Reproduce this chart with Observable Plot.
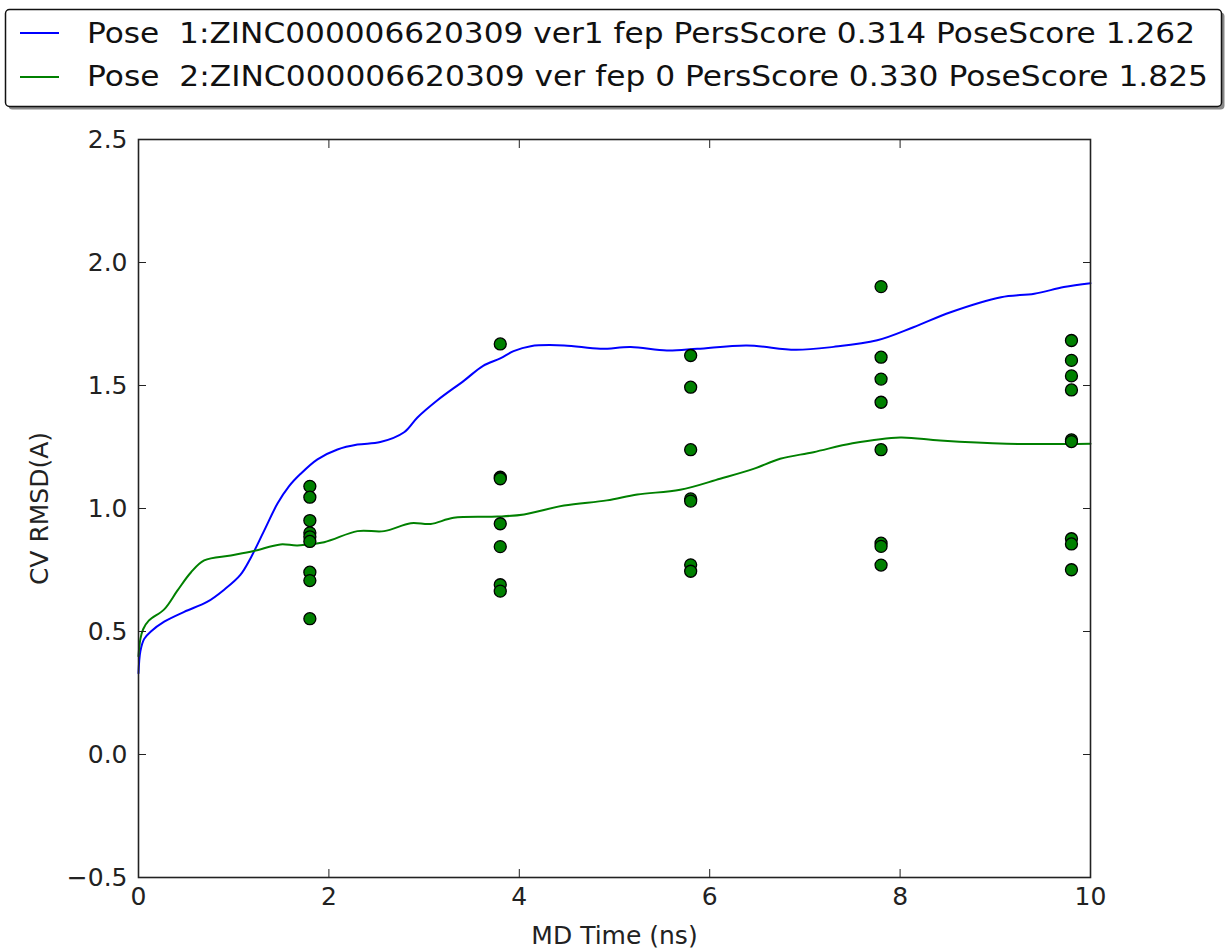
<!DOCTYPE html>
<html><head><meta charset="utf-8">
<script src="https://cdn.jsdelivr.net/npm/d3@7"></script>
<script src="https://cdn.jsdelivr.net/npm/@observablehq/plot@0.6"></script>
<style>
body{margin:0;background:#fff;}
#wrap{position:relative;width:1225px;height:952px;font-family:"DejaVu Sans";}
#legend{position:absolute;left:0;top:0;}
</style></head><body><div id="wrap"><div id="chart"></div><svg id="legend" width="1225" height="118"></svg></div>
<script>
// ---- data ----
const pose1Time = [0,0.02,0.06,0.13,0.27,0.48,0.72,0.90,1.07,1.18,1.32,1.46,1.58,1.70,1.88,2.09,2.30,2.54,2.79,2.93,3.14,3.42,3.62,3.80,3.94,4.12,4.47,4.85,5.17,5.55,5.87,6.39,6.90,7.30,7.76,8.14,8.53,9.06,9.41,9.72,10.0];
const pose1Rmsd = [0.33,0.42,0.47,0.50,0.54,0.58,0.62,0.67,0.73,0.80,0.91,1.02,1.09,1.14,1.20,1.24,1.26,1.27,1.31,1.37,1.44,1.52,1.58,1.61,1.64,1.66,1.663,1.649,1.656,1.642,1.649,1.663,1.645,1.657,1.684,1.737,1.798,1.859,1.873,1.90,1.916];
const pose2Time = [0,0.02,0.05,0.11,0.27,0.41,0.55,0.69,0.97,1.21,1.49,1.67,1.95,2.30,2.58,2.86,3.07,3.31,3.77,4.05,4.47,4.92,5.24,5.69,6.11,6.46,6.74,7.09,7.50,8.00,8.42,9.12,10.0];
const pose2Rmsd = [0.40,0.47,0.51,0.545,0.59,0.667,0.74,0.789,0.809,0.827,0.854,0.850,0.863,0.908,0.908,0.940,0.937,0.962,0.967,0.976,1.012,1.033,1.057,1.076,1.121,1.161,1.202,1.229,1.265,1.289,1.276,1.263,1.263];
const sampleTimes = [1.8, 3.8, 5.8, 7.8, 9.8];
const samplesAt1_8 = [1.09,1.046,0.951,0.901,0.885,0.866,0.741,0.707,0.552];
const samplesAt3_8 = [1.669,1.127,1.121,0.938,0.845,0.690,0.664];
const samplesAt5_8 = [1.622,1.493,1.239,1.039,1.030,0.771,0.745];
const samplesAt7_8 = [1.902,1.615,1.526,1.432,1.239,0.859,0.846,0.770];
const samplesAt9_8 = [1.683,1.602,1.539,1.482,1.279,1.272,0.877,0.856,0.751];
const xTicks = [0,2,4,6,8,10];
const yTicks = [-0.5,0,0.5,1.0,1.5,2.0,2.5];
const legendLabels = [
  "Pose  1:ZINC000006620309 ver1 fep PersScore 0.314 PoseScore 1.262",
  "Pose  2:ZINC000006620309 ver fep 0 PersScore 0.330 PoseScore 1.825"
];
const seriesColors = ["#0000ff", "#008000"];
const xLabel = "MD Time (ns)";
const yLabel = "CV RMSD(A)";

// ---- tables ----
const pose1 = pose1Time.map((t,i)=>({t, v:pose1Rmsd[i]}));
const pose2 = pose2Time.map((t,i)=>({t, v:pose2Rmsd[i]}));
const groups = [samplesAt1_8, samplesAt3_8, samplesAt5_8, samplesAt7_8, samplesAt9_8];
const samples = groups.flatMap((g,i)=>g.map(v=>({t:sampleTimes[i], v})));

const fmt = d3.format(".1f");
const blank = () => "";
const chart = Plot.plot({
  width:1225, height:952,
  marginLeft:138, marginRight:135, marginTop:139, marginBottom:75,
  style:{fontFamily:"DejaVu Sans", fontSize:"25px", color:"#222", background:"#fff", overflow:"visible"},
  x:{domain:[0,10]},
  y:{domain:[-0.5,2.5]},
  marks:[
    Plot.line(pose1, {x:"t", y:"v", stroke:seriesColors[0], strokeWidth:2, curve:"catmull-rom"}),
    Plot.line(pose2, {x:"t", y:"v", stroke:seriesColors[1], strokeWidth:2, curve:"catmull-rom"}),
    Plot.dot(samples, {x:"t", y:"v", r:6, fill:"#008000", stroke:"#000", strokeWidth:1.3}),
    Plot.frame({stroke:"#222", strokeWidth:1.6}),
    Plot.axisX(xTicks, {tickSize:0, tickPadding:10, tickFormat:d=>String(d), label:null, fill:"#222"}),
    Plot.axisY(yTicks, {tickSize:0, tickPadding:11, tickFormat:fmt, label:null, fill:"#222"}),
    Plot.axisX(xTicks, {anchor:"bottom", tickSize:-8, tickFormat:blank, label:null, stroke:"#222"}),
    Plot.axisX(xTicks, {anchor:"top", tickSize:-8, tickFormat:blank, label:null, stroke:"#222"}),
    Plot.axisY(yTicks, {anchor:"left", tickSize:-8, tickFormat:blank, label:null, stroke:"#222"}),
    Plot.axisY(yTicks, {anchor:"right", tickSize:-8, tickFormat:blank, label:null, stroke:"#222"}),
    Plot.text([yLabel], {frameAnchor:"left", dx:-99, rotate:-90, text:d=>d, fontSize:25, textAnchor:"middle", lineAnchor:"middle", fill:"#222"}),
    Plot.text([xLabel], {frameAnchor:"bottom", dy:58, text:d=>d, fontSize:25, textAnchor:"middle", lineAnchor:"middle", fill:"#222"})
  ]
});
document.getElementById("chart").append(chart);

// ---- legend ----
const lg = d3.select("#legend");
lg.append("rect").attr("x",8.5).attr("y",12.5).attr("width",1216).attr("height",97).attr("rx",4).attr("fill","#888");
lg.append("rect").attr("x",5.5).attr("y",9.5).attr("width",1216).attr("height",97).attr("rx",4)
  .attr("fill","#fff").attr("stroke","#111").attr("stroke-width",1.5);
const rowsY = [33, 77];
const baseY = [43, 86];
const textLens = [1108, 1121];
legendLabels.forEach((lab,i)=>{
  lg.append("line").attr("x1",20).attr("x2",59).attr("y1",rowsY[i]).attr("y2",rowsY[i])
    .attr("stroke",seriesColors[i]).attr("stroke-width",2);
  lg.append("text").attr("x",87).attr("y",baseY[i]).attr("font-family","DejaVu Sans").attr("font-size",28)
    .attr("fill","#111").attr("textLength",textLens[i]).attr("lengthAdjust","spacingAndGlyphs")
    .attr("xml:space","preserve").style("white-space","pre").text(lab);
});
</script></body></html>
